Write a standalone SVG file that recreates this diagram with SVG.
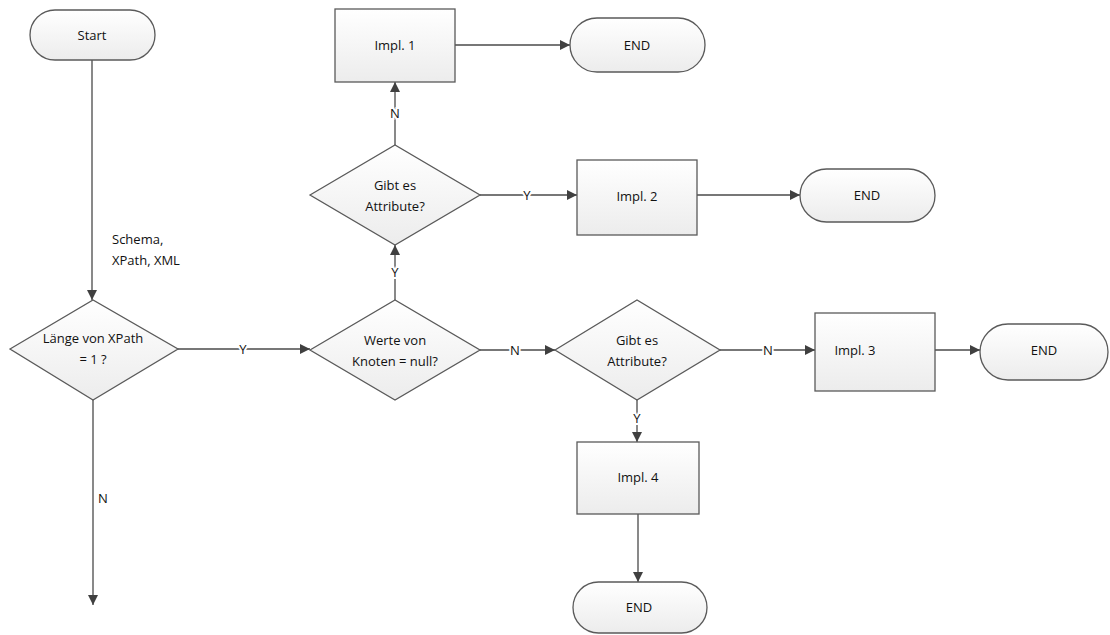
<svg xmlns="http://www.w3.org/2000/svg" width="1110" height="635" viewBox="0 0 1110 635">
<defs>
<linearGradient id="g" x1="0" y1="0" x2="0" y2="1">
<stop offset="0" stop-color="#ffffff"/>
<stop offset="1" stop-color="#ececec"/>
</linearGradient>
<marker id="ar" viewBox="0 0 10 10" refX="10" refY="5" markerWidth="10" markerHeight="10" markerUnits="userSpaceOnUse" orient="auto">
<path d="M0,0 L10,5 L0,10 z" fill="#404040"/>
</marker>
<style>
.n{fill:url(#g);stroke:#5a5a5a;stroke-width:1.3}
.t{font-family:"Open Sans","DejaVu Sans",sans-serif;font-size:13px;fill:#111;text-anchor:middle;dominant-baseline:central}
.c{stroke:#4a4a4a;stroke-width:1.3;fill:none}
.a{marker-end:url(#ar)}
.l{font-family:"Open Sans","DejaVu Sans",sans-serif;font-size:13px;fill:#111;text-anchor:middle;dominant-baseline:central;stroke:#fff;stroke-width:4;paint-order:stroke}
</style>
</defs>
<rect width="1110" height="635" fill="#fff"/>
<g id="connectors">
<line class="c a" x1="92" y1="60" x2="92" y2="300"/>
<line class="c a" x1="93" y1="400" x2="93" y2="605"/>
<line class="c a" x1="178" y1="349" x2="310" y2="349"/>
<line class="c a" x1="480" y1="350" x2="555" y2="350"/>
<line class="c a" x1="720" y1="350" x2="815" y2="350"/>
<line class="c a" x1="935" y1="350" x2="980" y2="350"/>
<line class="c a" x1="637" y1="400" x2="637" y2="442"/>
<line class="c a" x1="638" y1="514" x2="638" y2="582"/>
<line class="c a" x1="395" y1="300" x2="395" y2="245"/>
<line class="c a" x1="395" y1="145" x2="395" y2="82"/>
<line class="c a" x1="455" y1="45" x2="570" y2="45"/>
<line class="c a" x1="480" y1="195" x2="577" y2="195"/>
<line class="c a" x1="697" y1="195" x2="800" y2="195"/>
<text class="l" x="103" y="498">N</text>
<text class="l" x="243" y="349">Y</text>
<text class="l" x="515" y="350">N</text>
<text class="l" x="768" y="350">N</text>
<text class="l" x="637" y="418">Y</text>
<text class="l" x="395" y="272">Y</text>
<text class="l" x="395" y="113">N</text>
<text class="l" x="527" y="195">Y</text>
<text class="t" x="112" y="239" style="text-anchor:start">Schema,</text>
<text class="t" x="112" y="260" style="text-anchor:start">XPath, XML</text>
</g>
<g id="start">
<rect class="n" x="30" y="10" width="125" height="50" rx="25"/>
<text class="t" x="92" y="35">Start</text>
</g>
<g id="d1">
<polygon class="n" points="10,349 93,300 178,349 93,400"/>
<text class="t" x="93" y="338">Länge von XPath</text>
<text class="t" x="93" y="359">= 1 ?</text>
</g>
<g id="d2">
<polygon class="n" points="310,350 395,300 480,350 395,400"/>
<text class="t" x="395" y="340">Werte von</text>
<text class="t" x="395" y="361">Knoten = null?</text>
</g>
<g id="d3">
<polygon class="n" points="310,195 395,145 480,195 395,245"/>
<text class="t" x="395" y="185">Gibt es</text>
<text class="t" x="395" y="206">Attribute?</text>
</g>
<g id="d4">
<polygon class="n" points="555,350 637,300 720,350 637,400"/>
<text class="t" x="637" y="340">Gibt es</text>
<text class="t" x="637" y="361">Attribute?</text>
</g>
<g id="impl1">
<rect class="n" x="335" y="9" width="120" height="73"/>
<text class="t" x="395" y="45">Impl. 1</text>
</g>
<g id="end1">
<rect class="n" x="570" y="18" width="135" height="54" rx="27"/>
<text class="t" x="637" y="45">END</text>
</g>
<g id="impl2">
<rect class="n" x="577" y="160" width="120" height="75"/>
<text class="t" x="637" y="196">Impl. 2</text>
</g>
<g id="end2">
<rect class="n" x="800" y="169" width="135" height="53" rx="26.5"/>
<text class="t" x="867" y="195">END</text>
</g>
<g id="impl3">
<rect class="n" x="815" y="313" width="120" height="78"/>
<text class="t" x="855" y="350">Impl. 3</text>
</g>
<g id="end3">
<rect class="n" x="980" y="324" width="128" height="56" rx="28"/>
<text class="t" x="1044" y="350">END</text>
</g>
<g id="impl4">
<rect class="n" x="577" y="442" width="122" height="72"/>
<text class="t" x="638" y="477">Impl. 4</text>
</g>
<g id="end4">
<rect class="n" x="573" y="582" width="134" height="51" rx="25.5"/>
<text class="t" x="639" y="607">END</text>
</g>
</svg>
